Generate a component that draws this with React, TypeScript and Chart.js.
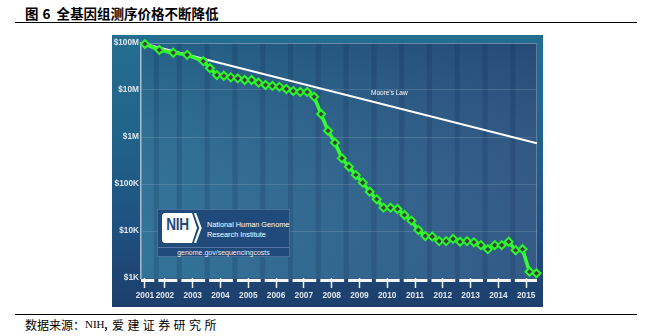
import React, { useEffect, useRef } from 'react';
import { Chart, registerables } from 'chart.js';

Chart.register(...registerables);

// ---- data ----
const years = [
  2001.66, 2002.18, 2002.68, 2003.18, 2003.76,
  2004.0, 2004.25, 2004.5, 2004.75,
  2005.0, 2005.25, 2005.5, 2005.75,
  2006.0, 2006.25, 2006.5, 2006.75,
  2007.0, 2007.25, 2007.5, 2007.75,
  2008.0, 2008.25, 2008.5, 2008.75,
  2009.0, 2009.25, 2009.5, 2009.75,
  2010.0, 2010.25, 2010.5, 2010.75,
  2011.0, 2011.25, 2011.5, 2011.75,
  2012.0, 2012.25, 2012.5, 2012.75,
  2013.0, 2013.25, 2013.5, 2013.75,
  2014.0, 2014.25, 2014.5, 2014.75,
  2015.0, 2015.25, 2015.5, 2015.75,
];
const costs = [
  95000000, 71000000, 62000000, 56000000, 41000000,
  29000000, 20800000, 20100000, 18600000,
  17700000, 16300000, 16300000, 14300000,
  12800000, 12200000, 11700000, 10500000,
  9500000, 9100000, 9100000, 7200000,
  3080000, 1360000, 757000, 352000,
  233000, 155000, 107000, 68600,
  47200, 31300, 31300, 29400,
  21900, 16600, 10500, 7800,
  7600, 6100, 6100, 6800,
  5900, 6100, 5750, 5000,
  4100, 5000, 5000, 5900,
  3900, 4100, 1360, 1260,
];
const mooreYears = [2001.66, 2015.77];
const mooreCosts = [95000000, 735000];

const xTickPositions = [2001.66, 2002.38, 2003.38, 2004.38, 2005.38, 2006.38, 2007.38, 2008.38, 2009.38, 2010.38, 2011.38, 2012.38, 2013.38, 2014.38, 2015.38];
const xTickLabels = ['2001', '2002', '2003', '2004', '2005', '2006', '2007', '2008', '2009', '2010', '2011', '2012', '2013', '2014', '2015'];
const yearBoundaries = [2002.07, 2002.9, 2003.9, 2004.9, 2005.9, 2006.9, 2007.9, 2008.9, 2009.9, 2010.9, 2011.9, 2012.9, 2013.9, 2014.9];
const yTickValues = [1e3, 1e4, 1e5, 1e6, 1e7, 1e8];
const yTickLabels = ['$1K', '$10K', '$100K', '$1M', '$10M', '$100M'];

const AXIS_FONT = 'Liberation Sans, Arial, Helvetica, sans-serif';

const panelPlugin = {
  id: 'panelDecor',
  beforeDraw(chart: any) {
    const { ctx, chartArea: a, scales } = chart;
    const xs = scales.x;
    ctx.save();
    const g = ctx.createLinearGradient(a.left, 0, a.right, 0);
    g.addColorStop(0, '#2b6f95');
    g.addColorStop(0.5, '#2b628c');
    g.addColorStop(1, '#2c5483');
    ctx.fillStyle = g;
    ctx.fillRect(a.left, a.top, a.right - a.left, a.bottom - a.top);
    const v = ctx.createLinearGradient(0, a.top, 0, a.bottom);
    v.addColorStop(0, 'rgba(0,15,45,0.14)');
    v.addColorStop(1, 'rgba(255,255,255,0.03)');
    ctx.fillStyle = v;
    ctx.fillRect(a.left, a.top, a.right - a.left, a.bottom - a.top);
    ctx.fillStyle = 'rgba(10,30,70,0.16)';
    yearBoundaries.forEach((b) => {
      const px = xs.getPixelForValue(b);
      ctx.fillRect(px - 2.5, a.top, 5, a.bottom - a.top);
    });
    ctx.restore();
  },
  beforeDatasetsDraw(chart: any) {
    const { ctx, chartArea: a } = chart;
    ctx.save();
    ctx.strokeStyle = 'rgba(160,180,210,0.45)';
    ctx.lineWidth = 1;
    ctx.beginPath();
    ctx.moveTo(a.left, a.top + 0.5);
    ctx.lineTo(a.right - 0.5, a.top + 0.5);
    ctx.lineTo(a.right - 0.5, a.bottom);
    ctx.stroke();
    ctx.restore();
  },
  afterDraw(chart: any) {
    const { ctx, chartArea: a, scales } = chart;
    const xs = scales.x;
    ctx.save();
    ctx.fillStyle = '#f4f6f9';
    const edges = [a.left, ...yearBoundaries.map((b) => xs.getPixelForValue(b)), a.right];
    for (let i = 0; i < edges.length - 1; i++) {
      const s = i === 0 ? edges[i] : edges[i] + 2;
      const e = i === edges.length - 2 ? edges[i + 1] : edges[i + 1] - 2;
      ctx.fillRect(s, a.bottom + 1, e - s, 3);
    }
    ctx.restore();
  },
};

function App() {
  const ref = useRef<HTMLCanvasElement | null>(null);

  useEffect(() => {
    if (!ref.current) return;
    const chart = new Chart(ref.current, {
      type: 'line',
      data: {
        datasets: [
          {
            label: 'Cost per Genome',
            data: years.map((x, i) => ({ x, y: costs[i] })),
            borderColor: '#35ff30',
            borderWidth: 3.5,
            pointStyle: 'rectRot',
            pointRadius: 4,
            pointBorderWidth: 2,
            pointBorderColor: '#2cf52a',
            pointBackgroundColor: '#3b3f3b',
            tension: 0,
            clip: false as any,
          },
          {
            label: "Moore's Law",
            data: mooreYears.map((x, i) => ({ x, y: mooreCosts[i] })),
            borderColor: '#ffffff',
            borderWidth: 2,
            pointRadius: 0,
            tension: 0,
          },
        ],
      },
      options: {
        animation: false,
        responsive: false,
        devicePixelRatio: 1,
        layout: { padding: { top: 8, right: 5, bottom: 0, left: 0 } },
        plugins: { legend: { display: false }, tooltip: { enabled: false } },
        scales: {
          x: {
            type: 'linear',
            min: 2001.52,
            max: 2015.77,
            afterBuildTicks: (s: any) => {
              s.ticks = xTickPositions.map((v) => ({ value: v }));
            },
            afterFit: (s: any) => {
              s.height = 29;
            },
            grid: {
              display: true,
              drawOnChartArea: false,
              drawTicks: true,
              tickLength: 10,
              tickColor: '#f2f5f8',
              tickWidth: 1.5,
              color: 'rgba(0,0,0,0)',
            },
            border: { display: false },
            ticks: {
              autoSkip: false,
              maxRotation: 0,
              minRotation: 0,
              padding: 3,
              color: '#dfe6ee',
              font: { family: AXIS_FONT, size: 8.3, weight: 'bold' },
              callback: (_v: any, i: number) => xTickLabels[i],
            },
          },
          y: {
            type: 'logarithmic',
            min: 1000,
            max: 100000000,
            afterBuildTicks: (s: any) => {
              s.ticks = yTickValues.map((v) => ({ value: v }));
            },
            afterFit: (s: any) => {
              s.width = 29;
            },
            grid: { color: 'rgba(255,255,255,0.13)', lineWidth: 1, drawTicks: false },
            border: { display: true, color: 'rgba(200,212,228,0.8)', width: 1.5 },
            ticks: {
              padding: 2,
              color: '#dfe6ee',
              font: { family: AXIS_FONT, size: 8.3, weight: 'bold' },
              callback: (_v: any, i: number) => yTickLabels[i],
            },
          },
        },
      } as any,
      plugins: [panelPlugin],
    });
    return () => chart.destroy();
  }, []);

  const cjk = "'Noto Sans CJK SC', sans-serif";

  return (
    <div style={{ position: 'absolute', left: 0, top: 0, width: 651, height: 336, background: '#fff', overflow: 'hidden' }}>
      {/* title */}
      <span style={{ position: 'absolute', left: 25, top: 6, fontFamily: cjk, fontWeight: 700, fontSize: 13.5, lineHeight: '14px', color: '#000' }}>图</span>
      <span style={{ position: 'absolute', left: 42.5, top: 6, fontFamily: cjk, fontWeight: 700, fontSize: 13.5, lineHeight: '14px', color: '#000' }}>6</span>
      <span style={{ position: 'absolute', left: 56.5, top: 6, fontFamily: cjk, fontWeight: 700, fontSize: 13.5, lineHeight: '14px', color: '#000', whiteSpace: 'nowrap' }}>全基因组测序价格不断降低</span>
      <div style={{ position: 'absolute', left: 15, top: 22, width: 622, height: 1.3, background: '#000' }} />

      {/* chart panel */}
      <div
        style={{
          position: 'absolute',
          left: 112,
          top: 35,
          width: 431,
          height: 272,
          background: 'linear-gradient(to bottom, #236e90 0%, #21648a 35%, #1f5180 70%, #1d3e6c 100%)',
        }}
      >
        <canvas ref={ref} width={431} height={272} style={{ display: 'block', width: 431, height: 272 }} />
        <span
          style={{
            position: 'absolute',
            left: 259,
            top: 54,
            width: 34,
            textAlign: 'center',
            fontFamily: AXIS_FONT,
            fontSize: 6.5,
            lineHeight: '8px',
            color: '#ffffff',
            whiteSpace: 'nowrap',
          }}
        >
          Moore's Law
        </span>
        {/* NIH box */}
        <div
          style={{
            position: 'absolute',
            left: 45,
            top: 173.5,
            width: 133,
            height: 48.5,
            background: '#1f4a79',
            border: '1px solid rgba(110,140,185,0.55)',
            boxSizing: 'border-box',
          }}
        >
          <svg width={41} height={30} style={{ position: 'absolute', left: 4, top: 3 }} viewBox="0 0 41 30">
            <polygon points="2,0 30,0 35,15 30,30 2,30 0,28 0,2" fill="#ffffff" />
            <polyline points="33,0 38.5,15 33,30" fill="none" stroke="#ffffff" strokeWidth={2.2} />
          </svg>
          <span
            style={{
              position: 'absolute',
              left: 5,
              top: 7.5,
              width: 29,
              textAlign: 'center',
              fontFamily: AXIS_FONT,
              fontWeight: 700,
              fontSize: 16,
              lineHeight: '16px',
              color: '#1f4a7c',
              transform: 'scaleX(0.85)',
              letterSpacing: -0.3,
            }}
          >
            NIH
          </span>
          <span style={{ position: 'absolute', left: 49, top: 10, fontFamily: AXIS_FONT, fontSize: 7.3, lineHeight: '9px', color: '#fff', whiteSpace: 'nowrap' }}>
            National Human Genome
          </span>
          <span style={{ position: 'absolute', left: 49, top: 20, fontFamily: AXIS_FONT, fontSize: 7.3, lineHeight: '9px', color: '#fff', whiteSpace: 'nowrap' }}>
            Research Institute
          </span>
          <div style={{ position: 'absolute', left: 0, top: 37, width: 131, height: 1, background: 'rgba(120,150,195,0.6)' }} />
          <span
            style={{
              position: 'absolute',
              left: 0,
              top: 38.5,
              width: 131,
              textAlign: 'center',
              fontFamily: AXIS_FONT,
              fontSize: 7,
              lineHeight: '9px',
              color: '#e8eef5',
              whiteSpace: 'nowrap',
            }}
          >
            genome.gov/sequencingcosts
          </span>
        </div>
      </div>

      {/* footer */}
      <div style={{ position: 'absolute', left: 15, top: 313.5, width: 622, height: 1, background: '#000' }} />
      <span style={{ position: 'absolute', left: 25, top: 317.5, fontFamily: cjk, fontSize: 12, lineHeight: '13px', color: '#000', whiteSpace: 'nowrap' }}>数据来源：</span>
      <span style={{ position: 'absolute', left: 85, top: 317.5, fontFamily: "'Liberation Serif', serif", fontSize: 11, lineHeight: '13px', color: '#000', whiteSpace: 'nowrap' }}>NIH</span>
      <span style={{ position: 'absolute', left: 103, top: 317.5, fontFamily: cjk, fontSize: 12, lineHeight: '13px', color: '#000', whiteSpace: 'nowrap' }}>，</span>
      <span style={{ position: 'absolute', left: 112, top: 317.5, fontFamily: cjk, fontSize: 12, lineHeight: '13px', color: '#000', whiteSpace: 'nowrap', letterSpacing: 3.4 }}>爱建证券研究所</span>
    </div>
  );
}

export default App;
